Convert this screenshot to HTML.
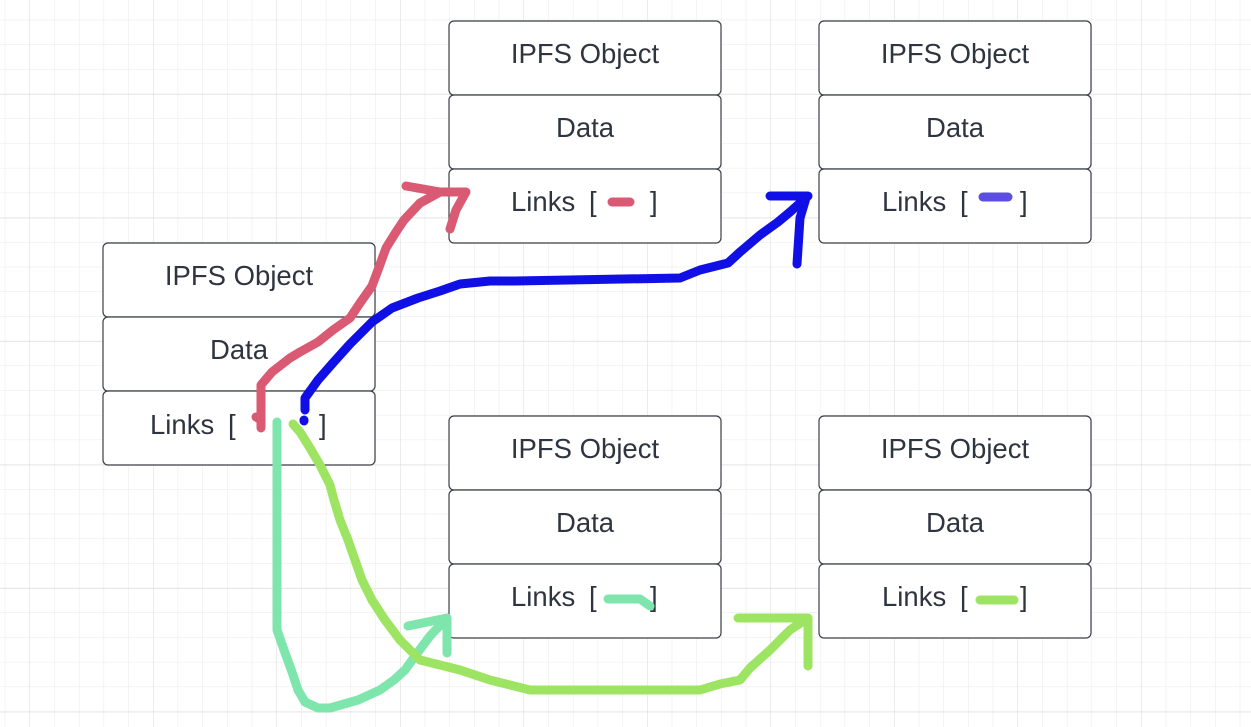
<!DOCTYPE html>
<html><head><meta charset="utf-8"><style>
html,body{margin:0;padding:0;background:#fff;width:1251px;height:727px;overflow:hidden}
svg{display:block}
text{font-family:"Liberation Sans",sans-serif;font-size:27.5px;fill:#2f3540}
</style></head><body>
<svg width="1251" height="727" viewBox="0 0 1251 727" xmlns="http://www.w3.org/2000/svg">
<defs>
<pattern id="minor" x="4.8" y="-5" width="24.7" height="24.7" patternUnits="userSpaceOnUse">
<path d="M0 0V24.7M0 0H24.7" stroke="#e9e9e9" stroke-width="1" fill="none"/>
</pattern>
<pattern id="major" x="29.5" y="94.3" width="123.5" height="123.5" patternUnits="userSpaceOnUse">
<path d="M0 0V123.5M0 0H123.5" stroke="#d8d8d8" stroke-width="1" fill="none"/>
</pattern>
</defs>
<rect width="1251" height="727" fill="url(#minor)"/>
<rect width="1251" height="727" fill="url(#major)"/>
<g fill="#fff" stroke="#3a3f48" stroke-width="1.2">
<rect x="103" y="243" width="272" height="74" rx="5"/>
<rect x="103" y="317" width="272" height="74" rx="5"/>
<rect x="103" y="391" width="272" height="74" rx="5"/>
<rect x="449" y="21" width="272" height="74" rx="5"/>
<rect x="449" y="95" width="272" height="74" rx="5"/>
<rect x="449" y="169" width="272" height="74" rx="5"/>
<rect x="819" y="21" width="272" height="74" rx="5"/>
<rect x="819" y="95" width="272" height="74" rx="5"/>
<rect x="819" y="169" width="272" height="74" rx="5"/>
<rect x="449" y="416" width="272" height="74" rx="5"/>
<rect x="449" y="490" width="272" height="74" rx="5"/>
<rect x="449" y="564" width="272" height="74" rx="5"/>
<rect x="819" y="416" width="272" height="74" rx="5"/>
<rect x="819" y="490" width="272" height="74" rx="5"/>
<rect x="819" y="564" width="272" height="74" rx="5"/>
</g>
<g text-anchor="middle">
<text x="239" y="285">IPFS Object</text><text x="239" y="359">Data</text>
<text x="585" y="63">IPFS Object</text><text x="585" y="137">Data</text>
<text x="955" y="63">IPFS Object</text><text x="955" y="137">Data</text>
<text x="585" y="458">IPFS Object</text><text x="585" y="532">Data</text>
<text x="955" y="458">IPFS Object</text><text x="955" y="532">Data</text>
</g>
<text x="150" y="434">Links</text><text x="228" y="434">[</text><text x="319" y="434">]</text>
<text x="511" y="211">Links</text><text x="589" y="211">[</text><text x="650" y="211">]</text>
<text x="882" y="211">Links</text><text x="960" y="211">[</text><text x="1020" y="211">]</text>
<text x="511" y="606">Links</text><text x="589" y="606">[</text><text x="650" y="606">]</text>
<text x="882" y="606">Links</text><text x="960" y="606">[</text><text x="1020" y="606">]</text>
<g fill="none" stroke-linecap="round" stroke-linejoin="round" stroke-width="9">
<path d="M612 202H630" stroke="#d95a72"/>
<path d="M983 197H1008" stroke="#5b4ee0"/>
<path d="M608 599H640L650 606" stroke="#7ee6ad"/>
<path d="M980 600H1014" stroke="#9ee463"/>
<path d="M261 428V385L272 372L290 358L300 352L318 342L333 330L350 318L360 303L372 286L378 270L386 248L396 232L404 220L420 203L440 192H466L456 210L450 229" stroke="#d95a72"/>
<path d="M406 186L440 192" stroke="#d95a72"/>
<path d="M256 417L261 420" stroke="#d95a72"/>
<path d="M305 410V398L318 380L332 364L350 344L372 322L392 308L418 298L440 291L460 284L490 281H515L680 278L700 270L728 263L740 252L760 235L778 222L790 212L808 196H770M806 198L800 218L797 264" stroke="#1010e6"/>
<path d="M304 421V420" stroke="#1010e6"/>
<path d="M277 422V630L284 650L292 672L298 690L305 702L318 708H330L358 700L380 690L394 680L405 670L415 656L430 636L447 618V653M408 626L447 618" stroke="#7ee6ad"/>
<path d="M293 424L300 432L310 448L320 465L330 485L334 500L340 520L348 540L355 560L362 580L372 600L385 620L400 640L420 660L440 665L460 670L490 680L530 690H700L720 684L740 680L750 668L770 650L790 630L808 618H738M808 618V666" stroke="#9ee463"/>
</g>
</svg>
</body></html>
